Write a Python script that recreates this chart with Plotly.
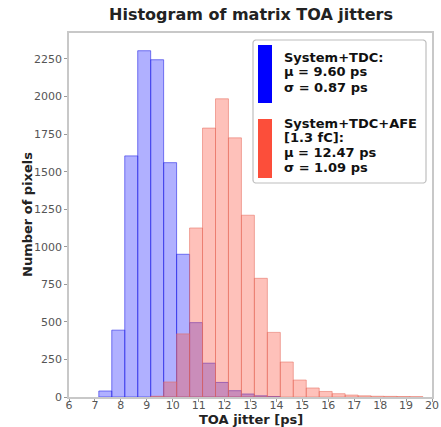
import plotly.graph_objects as go
import math

# ---- data ----
bin_width = 0.5
blue_centers = [7.4, 7.9, 8.4, 8.9, 9.4, 9.9, 10.4, 10.9, 11.4, 11.9, 12.4, 12.9, 13.4, 13.9]
blue_counts = [40, 445, 1605, 2305, 2245, 1560, 950, 495, 225, 97, 42, 20, 8, 3]

red_centers = [9.4, 9.9, 10.4, 10.9, 11.4, 11.9, 12.4, 12.9, 13.4, 13.9, 14.4, 14.9,
               15.4, 15.9, 16.4, 16.9, 17.4, 17.9, 18.4, 18.9, 19.4]
red_counts = [5, 100, 420, 1125, 1790, 1985, 1725, 1210, 790, 430, 233, 113,
              60, 37, 22, 13, 8, 5, 4, 3, 2]

legend_blue = ["System+TDC:", "\u03bc = 9.60 ps", "\u03c3 = 0.87 ps"]
legend_red = ["System+TDC+AFE", "[1.3 fC]:", "\u03bc = 12.47 ps", "\u03c3 = 1.09 ps"]

x_ticks = list(range(6, 21))
y_ticks = list(range(0, 2251, 250))

BLUE = "rgb(0,0,255)"
RED = "rgb(252,78,58)"
FONT = "DejaVu Sans"

W, H = 441, 427
L, R, T, B = 69, 9, 33, 30
PW, PH = W - L - R, H - T - B

fig = go.Figure()
fig.add_trace(go.Bar(x=blue_centers, y=blue_counts, width=bin_width,
                     marker=dict(color="rgba(0,0,255,0.31)",
                                 line=dict(color="rgba(40,40,230,0.6)", width=1)),
                     showlegend=False))
fig.add_trace(go.Bar(x=red_centers, y=red_counts, width=bin_width,
                     marker=dict(color="rgba(252,78,58,0.35)",
                                 line=dict(color="rgba(230,110,95,0.55)", width=1)),
                     showlegend=False))


def px(xp):
    return (xp - L) / PW


def py(yp):
    return (H - B - yp) / PH


def rounded_path(x0, y0, x1, y1, r):
    pts = []

    def arc(cx, cy, a0, a1):
        out = []
        for i in range(7):
            a = math.radians(a0 + (a1 - a0) * i / 6)
            out.append((cx + r * math.cos(a), cy + r * math.sin(a)))
        return out
    pts += arc(x1 - r, y0 + r, -90, 0)
    pts += arc(x1 - r, y1 - r, 0, 90)
    pts += arc(x0 + r, y1 - r, 90, 180)
    pts += arc(x0 + r, y0 + r, 180, 270)
    return "M " + " L ".join(f"{px(a):.5f},{py(b):.5f}" for a, b in pts) + " Z"


shapes = [
    dict(type="path", xref="paper", yref="paper",
         path=rounded_path(253, 40, 426, 183, 3),
         line=dict(color="rgb(190,190,190)", width=1.2), fillcolor="rgba(255,255,255,0.85)"),
    dict(type="rect", xref="paper", yref="paper", x0=px(258), x1=px(272), y0=py(103), y1=py(45),
         line=dict(width=0), fillcolor=BLUE),
    dict(type="rect", xref="paper", yref="paper", x0=px(258), x1=px(272), y0=py(178), y1=py(119),
         line=dict(width=0), fillcolor=RED),
]

annotations = []
for i, t in enumerate(legend_blue):
    annotations.append(dict(text=f"<b>{t}</b>", xref="paper", yref="paper", x=px(282), y=py(57 + 15 * i),
                            xanchor="left", yanchor="middle", showarrow=False,
                            font=dict(family=FONT, size=13, color="#111")))
for i, t in enumerate(legend_red):
    annotations.append(dict(text=f"<b>{t}</b>", xref="paper", yref="paper", x=px(282), y=py(123 + 14.7 * i),
                            xanchor="left", yanchor="middle", showarrow=False,
                            font=dict(family=FONT, size=13, color="#111")))
annotations.append(dict(text="<b>Histogram of matrix TOA jitters</b>", xref="paper", yref="paper",
                        x=0.5, y=py(15), xanchor="center", yanchor="middle", showarrow=False,
                        font=dict(family=FONT, size=16, color="#222")))
annotations.append(dict(text="<b>TOA jitter [ps]</b>", xref="paper", yref="paper",
                        x=0.5, y=py(419.5), xanchor="center", yanchor="middle", showarrow=False,
                        font=dict(family=FONT, size=13, color="#222")))
annotations.append(dict(text="<b>Number of pixels</b>", xref="paper", yref="paper",
                        x=px(27), y=0.5, xanchor="center", yanchor="middle", showarrow=False,
                        textangle=-90, font=dict(family=FONT, size=13, color="#222")))

fig.update_layout(
    width=W, height=H, autosize=False,
    margin=dict(l=L, r=R, t=T, b=B, pad=0, autoexpand=False),
    barmode="overlay",
    plot_bgcolor="white", paper_bgcolor="white",
    shapes=shapes, annotations=annotations,
    font=dict(family=FONT, size=11, color="#555"),
    xaxis=dict(range=[6, 20], tickvals=x_ticks, ticks="outside", ticklen=3, tickcolor="#999",
               showgrid=False, zeroline=False, showline=True, linecolor="rgb(200,200,200)",
               linewidth=1.5, mirror=True, tickfont=dict(size=11, color="#555"),
               automargin=False, ticklabelstandoff=-6),
    yaxis=dict(range=[0, 2423], tickvals=y_ticks, ticks="outside", ticklen=3, tickcolor="#999",
               showgrid=False, zeroline=False, showline=True, linecolor="rgb(200,200,200)",
               linewidth=1.5, mirror=True, tickfont=dict(size=11, color="#555"),
               automargin=False),
)

fig.write_html("out.html")
